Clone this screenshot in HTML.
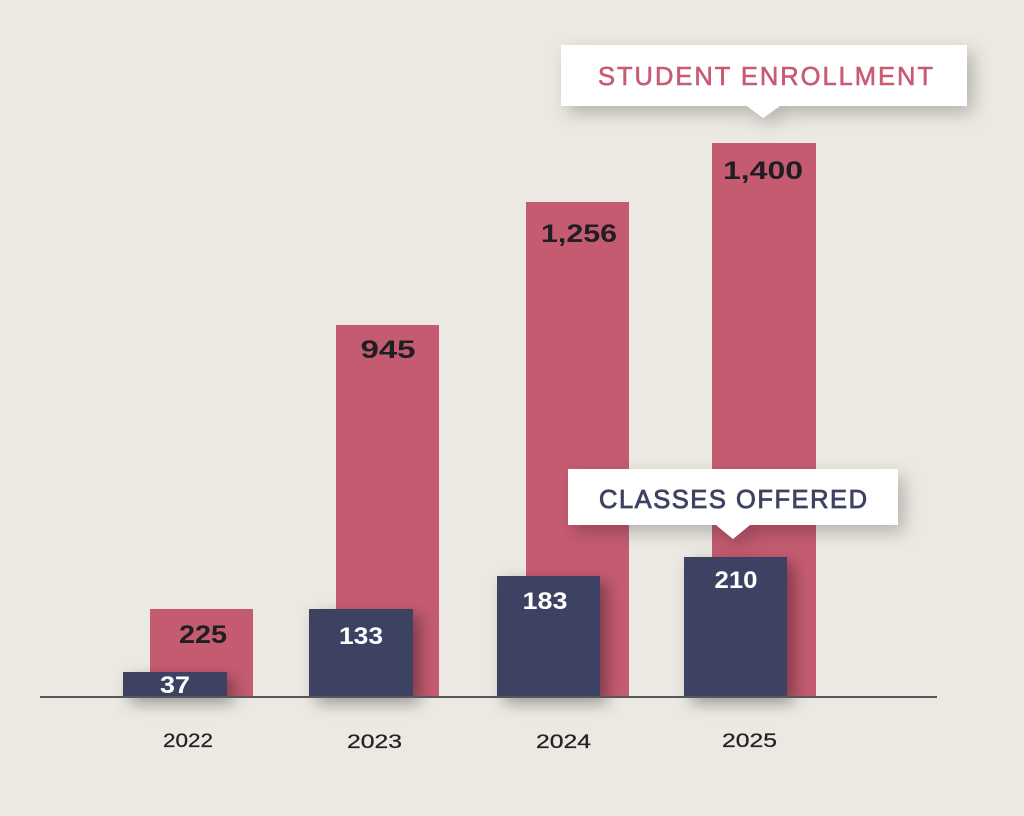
<!DOCTYPE html>
<html>
<head>
<meta charset="utf-8">
<style>
  html,body{margin:0;padding:0;background:#ECE9E2;}
  svg{display:block;}
  text{font-family:"Liberation Sans", sans-serif;}
</style>
</head>
<body>
<svg width="1024" height="816" viewBox="0 0 1024 816" xmlns="http://www.w3.org/2000/svg">
  <defs>
    <filter id="barShadow" x="-40%" y="-40%" width="180%" height="180%">
      <feDropShadow dx="7" dy="6" stdDeviation="8" flood-color="#000" flood-opacity="0.36"/>
    </filter>
    <filter id="boxShadow" x="-20%" y="-60%" width="140%" height="240%">
      <feDropShadow dx="6" dy="7" stdDeviation="9" flood-color="#000" flood-opacity="0.24"/>
    </filter>
  </defs>
  <rect x="0" y="0" width="1024" height="816" fill="#ECE9E2"/>

  <!-- Pink bars (student enrollment) -->
  <g fill="#C55B71">
    <rect x="150" y="609" width="103" height="88"/>
    <rect x="336" y="325" width="103" height="372"/>
    <rect x="526" y="202" width="103" height="495"/>
    <rect x="712" y="143" width="104" height="554"/>
  </g>

  <!-- Navy bars (classes offered) -->
  <g fill="#3E4263" filter="url(#barShadow)">
    <rect x="123" y="672" width="104" height="25"/>
    <rect x="309" y="609" width="104" height="88"/>
    <rect x="497" y="576" width="103" height="121"/>
    <rect x="684" y="557" width="103" height="140"/>
  </g>

  <!-- Baseline -->
  <rect x="40" y="696" width="897" height="2" fill="#55565F"/>

  <!-- Pink value labels -->
  <g fill="#1F1E22" font-weight="bold" font-size="25" text-anchor="middle">
    <text x="203" y="643" textLength="48" lengthAdjust="spacingAndGlyphs">225</text>
    <text x="388" y="358" textLength="55" lengthAdjust="spacingAndGlyphs">945</text>
    <text x="579" y="242" textLength="76" lengthAdjust="spacingAndGlyphs">1,256</text>
    <text x="763" y="179" textLength="80" lengthAdjust="spacingAndGlyphs">1,400</text>
  </g>

  <!-- Navy value labels -->
  <g fill="#FFFFFF" font-weight="bold" font-size="24" text-anchor="middle">
    <text x="175" y="693" textLength="30" lengthAdjust="spacingAndGlyphs">37</text>
    <text x="361" y="644" textLength="44" lengthAdjust="spacingAndGlyphs">133</text>
    <text x="545" y="609" textLength="45" lengthAdjust="spacingAndGlyphs">183</text>
    <text x="736" y="588" textLength="43" lengthAdjust="spacingAndGlyphs">210</text>
  </g>

  <!-- Year labels -->
  <g fill="#222226" font-size="19" text-anchor="middle" stroke="#222226" stroke-width="0.25">
    <text x="188" y="747" textLength="50" lengthAdjust="spacingAndGlyphs">2022</text>
    <text x="374.5" y="748" textLength="55" lengthAdjust="spacingAndGlyphs">2023</text>
    <text x="563.5" y="748" textLength="55" lengthAdjust="spacingAndGlyphs">2024</text>
    <text x="749.5" y="747" textLength="55" lengthAdjust="spacingAndGlyphs">2025</text>
  </g>

  <!-- Student Enrollment callout -->
  <g filter="url(#boxShadow)">
    <path d="M561 45 H967 V106 H780 L763 118 L747 106 H561 Z" fill="#FFFFFF"/>
  </g>
  <text x="598" y="85" font-size="25.5" fill="#C85A72" stroke="#C85A72" stroke-width="0.6" textLength="335" lengthAdjust="spacing">STUDENT ENROLLMENT</text>

  <!-- Classes Offered callout -->
  <g filter="url(#boxShadow)">
    <path d="M568 469 H898 V525 H750 L733 539 L716 525 H568 Z" fill="#FFFFFF"/>
  </g>
  <text x="599" y="508" font-size="25.5" fill="#3E4263" stroke="#3E4263" stroke-width="0.8" textLength="268" lengthAdjust="spacing">CLASSES OFFERED</text>
</svg>
</body>
</html>
